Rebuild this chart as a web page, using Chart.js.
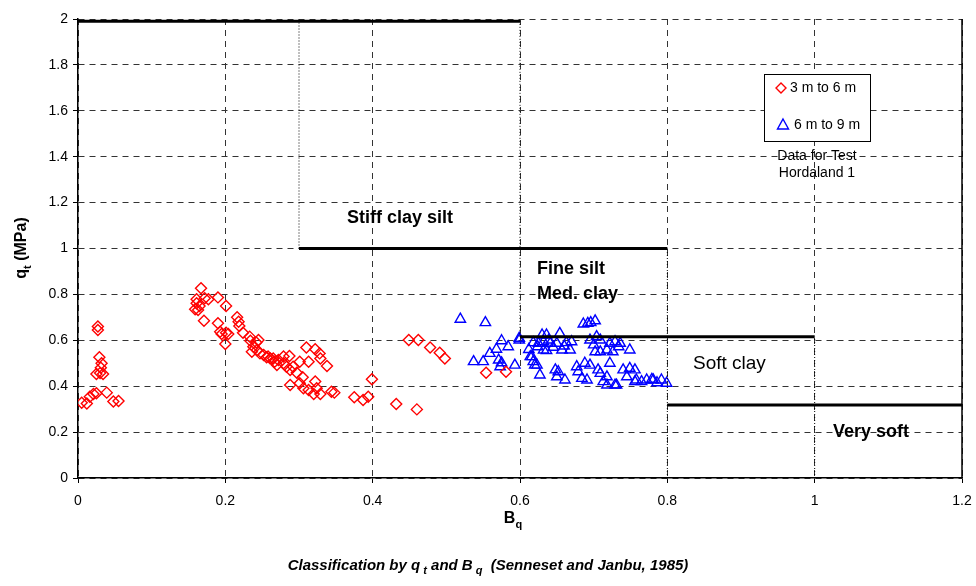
<!DOCTYPE html>
<html lang="en">
<head>
<meta charset="UTF-8">
<title>Classification by qt and Bq</title>
<style>
  body { margin: 0; background: #fff; }
  #wrap { width: 976px; height: 586px; }
</style>
</head>
<body>
<div id="wrap"><canvas id="chart" width="976" height="586"></canvas></div>
<script src="https://cdn.jsdelivr.net/npm/chart.js"></script>
<script>
// 3 m to 6 m (red diamonds)
const bqShallow = [0.005,0.012,0.016,0.021,0.025,0.039,0.048,0.055,0.027,0.027,0.029,0.032,0.030,0.025,0.034,0.031,
  0.167,0.161,0.172,0.177,0.190,0.161,0.165,0.159,0.163,0.201,0.171,0.190,0.216,0.218,0.219,0.193,0.201,0.204,0.200,0.195,
  0.224,0.233,0.234,0.242,0.245,0.236,0.243,0.247,0.252,0.256,0.261,0.267,0.270,0.238,0.258,0.265,0.272,0.279,0.287,0.279,
  0.283,0.288,0.292,0.297,0.301,0.305,0.288,0.310,0.322,0.328,0.329,0.313,0.338,0.301,0.306,0.313,0.322,0.320,0.329,0.324,
  0.344,0.348,0.375,0.387,0.394,0.399,0.432,0.449,0.462,0.478,0.491,0.498,0.554,0.581,0.460];
const qtShallow = [0.328,0.325,0.354,0.366,0.369,0.372,0.333,0.336,0.660,0.645,0.526,0.500,0.457,0.453,0.453,0.480,
  0.827,0.779,0.783,0.779,0.787,0.761,0.749,0.735,0.732,0.749,0.685,0.674,0.700,0.681,0.662,0.637,0.633,0.627,0.584,0.627,
  0.633,0.616,0.598,0.590,0.601,0.550,0.558,0.543,0.536,0.526,0.521,0.507,0.492,0.572,0.529,0.521,0.514,0.529,0.532,0.500,
  0.485,0.471,0.485,0.459,0.507,0.439,0.405,0.569,0.561,0.543,0.521,0.507,0.488,0.413,0.391,0.383,0.420,0.366,0.366,0.391,
  0.376,0.372,0.352,0.340,0.354,0.430,0.322,0.601,0.601,0.569,0.546,0.521,0.459,0.463,0.299];

// 6 m to 9 m (blue triangles)
const bqDeep = [0.519,0.553,0.575,0.599,0.568,0.584,0.559,0.537,0.550,0.571,0.575,0.573,0.593,0.618,0.624,0.632,0.639,0.636,
  0.616,0.618,0.623,0.627,0.648,0.650,0.686,0.692,0.696,0.702,0.599,0.630,0.636,0.654,0.625,0.632,0.641,0.650,0.657,0.663,
  0.668,0.670,0.695,0.704,0.709,0.700,0.702,0.709,0.718,0.722,0.729,0.734,0.726,0.749,0.736,0.614,0.620,0.652,0.661,0.677,
  0.679,0.688,0.695,0.684,0.691,0.706,0.709,0.718,0.722,0.713,0.718,0.731,0.740,0.749,0.756,0.745,0.758,0.772,0.781,0.756,
  0.765,0.779,0.792,0.799,0.729,0.786,0.645,0.660,0.612];
const qtDeep = [0.692,0.677,0.598,0.601,0.561,0.572,0.543,0.507,0.507,0.514,0.502,0.485,0.492,0.590,0.572,0.594,0.601,0.555,
  0.529,0.507,0.492,0.449,0.471,0.441,0.671,0.674,0.677,0.685,0.609,0.623,0.623,0.630,0.587,0.558,0.587,0.587,0.558,0.590,
  0.558,0.594,0.601,0.616,0.601,0.580,0.550,0.550,0.558,0.587,0.594,0.572,0.550,0.558,0.587,0.529,0.492,0.463,0.427,0.485,
  0.463,0.500,0.492,0.434,0.427,0.471,0.456,0.441,0.500,0.420,0.405,0.405,0.471,0.478,0.471,0.441,0.427,0.427,0.427,0.420,
  0.420,0.430,0.427,0.413,0.405,0.415,0.570,0.575,0.560];

const xTicks = [0, 0.2, 0.4, 0.6, 0.8, 1, 1.2];
const yTicks = [0, 0.2, 0.4, 0.6, 0.8, 1, 1.2, 1.4, 1.6, 1.8, 2];

// zone boundaries: thick horizontal lines
const zoneFromBq = [0, 0.3, 0.6, 0.8];
const zoneToBq = [0.6, 0.8, 1.0, 1.2];
const zoneQt = [1.99, 1.0, 0.615, 0.318];
// thin dotted verticals
const dotBq = [0.3, 0.6, 0.8, 1.0];
const dotFromQt = [1.0, 0.615, 0, 0];
const dotToQt = [2, 2, 1.0, 0.615];

const FONT = '"Liberation Sans", Arial, sans-serif';

function pts(xs, ys) {
  return xs.map((x, i) => ({ x: x, y: ys[i] }));
}

const datasets = [];
zoneQt.forEach((q, i) => {
  datasets.push({
    type: 'line', data: [{ x: zoneFromBq[i], y: q }, { x: zoneToBq[i], y: q }],
    borderColor: '#000', borderWidth: 3, pointRadius: 0, fill: false, clip: false
  });
});
dotBq.forEach((b, i) => {
  datasets.push({
    type: 'line', data: [{ x: b, y: dotFromQt[i] }, { x: b, y: dotToQt[i] }],
    borderColor: '#000', borderWidth: 1, borderDash: [1, 2], pointRadius: 0, fill: false
  });
});
datasets.push({
  label: '3 m to 6 m', data: pts(bqShallow, qtShallow),
  pointStyle: 'rectRot', pointRadius: 5.5, borderColor: '#ff0000', borderWidth: 1.4,
  backgroundColor: 'rgba(0,0,0,0)'
});
datasets.push({
  label: '6 m to 9 m', data: pts(bqDeep, qtDeep),
  pointStyle: 'triangle', pointRadius: 6, borderColor: '#0000ff', borderWidth: 1.4,
  backgroundColor: 'rgba(0,0,0,0)'
});

// draw text runs with subscripts
function drawRuns(ctx, runs, x, y, size, style, align) {
  const widths = runs.map(r => {
    ctx.font = style + ' ' + (r.sub ? Math.round(size * 0.7) : size) + 'px ' + FONT;
    return ctx.measureText(r.t).width + (r.gap || 0);
  });
  const total = widths.reduce((a, b) => a + b, 0);
  let cx = align === 'center' ? x - total / 2 : x;
  ctx.textBaseline = 'middle';
  ctx.textAlign = 'left';
  runs.forEach((r, i) => {
    ctx.font = style + ' ' + (r.sub ? Math.round(size * 0.7) : size) + 'px ' + FONT;
    ctx.fillText(r.t, cx + (r.gap || 0), r.sub ? y + size * 0.35 : y);
    cx += widths[i];
  });
}

const overlay = {
  id: 'overlay',
  afterDraw(chart) {
    const ctx = chart.ctx;
    const a = chart.chartArea;
    ctx.save();
    ctx.fillStyle = '#000';
    ctx.strokeStyle = '#000';

    // right frame
    ctx.lineWidth = 1.5;
    ctx.beginPath();
    ctx.moveTo(a.right, a.top);
    ctx.lineTo(a.right, a.bottom);
    ctx.stroke();

    // zone labels
    ctx.textBaseline = 'middle';
    ctx.textAlign = 'left';
    ctx.font = 'bold 18px ' + FONT;
    ctx.fillText('Stiff clay silt', 347, 218);
    ctx.fillText('Fine silt', 537, 269);
    ctx.fillText('Med. clay', 537, 294);
    ctx.fillText('Very soft', 833, 432);
    ctx.font = '19px ' + FONT;
    ctx.fillText('Soft clay', 693, 364);

    // legend
    ctx.fillStyle = '#fff';
    ctx.fillRect(764, 74, 106, 67);
    ctx.lineWidth = 1;
    ctx.strokeRect(764.5, 74.5, 106, 67);
    ctx.lineWidth = 1.4;
    ctx.strokeStyle = '#ff0000';
    ctx.beginPath();
    ctx.moveTo(781, 83); ctx.lineTo(786, 88); ctx.lineTo(781, 93); ctx.lineTo(776, 88); ctx.closePath();
    ctx.stroke();
    ctx.strokeStyle = '#0000ff';
    ctx.beginPath();
    ctx.moveTo(783, 119); ctx.lineTo(788.5, 129); ctx.lineTo(777.5, 129); ctx.closePath();
    ctx.stroke();
    ctx.fillStyle = '#000';
    ctx.font = '14px ' + FONT;
    ctx.fillText('3 m to 6 m', 790, 88);
    ctx.fillText('6 m to 9 m', 794, 125);
    ctx.textAlign = 'center';
    ctx.fillText('Data for Test', 817, 156);
    ctx.fillText('Hordaland 1', 817, 173);

    // axis titles
    drawRuns(ctx, [{ t: 'B' }, { t: 'q', sub: true }], 513, 519, 16, 'bold', 'center');
    ctx.save();
    ctx.translate(22, 248);
    ctx.rotate(-Math.PI / 2);
    drawRuns(ctx, [{ t: 'q' }, { t: 't', sub: true }, { t: ' (MPa)' }], 0, 0, 16, 'bold', 'center');
    ctx.restore();

    // caption
    drawRuns(ctx, [
      { t: 'Classification by q' }, { t: 't', sub: true, gap: 3 },
      { t: ' and B' }, { t: 'q', sub: true, gap: 3 },
      { t: '  (Senneset and Janbu, 1985)' }
    ], 488, 566, 15, 'italic bold', 'center');
    ctx.restore();
  }
};

new Chart(document.getElementById('chart'), {
  type: 'scatter',
  data: { datasets: datasets },
  options: {
    responsive: false,
    animation: false,
    layout: { padding: { left: 0, top: 19, right: 14, bottom: 0 } },
    plugins: { legend: { display: false }, tooltip: { enabled: false } },
    scales: {
      x: {
        type: 'linear', min: 0, max: 1.2,
        afterBuildTicks: s => { s.ticks = xTicks.map(v => ({ value: v })); },
        afterFit: s => { s.height = 108; s.paddingLeft = 0; s.paddingRight = 0; },
        ticks: { color: '#000', font: { family: FONT, size: 14 }, padding: 10, maxRotation: 0,
          callback: v => String(+v.toFixed(1)) },
        grid: { color: '#333', lineWidth: 1, tickLength: 5, tickColor: '#000' },
        border: { display: true, color: '#000', width: 1.5, dash: [6, 5] }
      },
      y: {
        type: 'linear', min: 0, max: 2,
        afterBuildTicks: s => { s.ticks = yTicks.map(v => ({ value: v })); },
        afterFit: s => { s.width = 78; s.paddingTop = 0; s.paddingBottom = 0; },
        ticks: { color: '#000', font: { family: FONT, size: 14 }, padding: 5,
          callback: v => String(+v.toFixed(1)) },
        grid: { color: '#333', lineWidth: 1, tickLength: 5, tickColor: '#000' },
        border: { display: true, color: '#000', width: 1.5, dash: [6, 5] }
      }
    }
  },
  plugins: [overlay]
});
</script>
</body>
</html>
